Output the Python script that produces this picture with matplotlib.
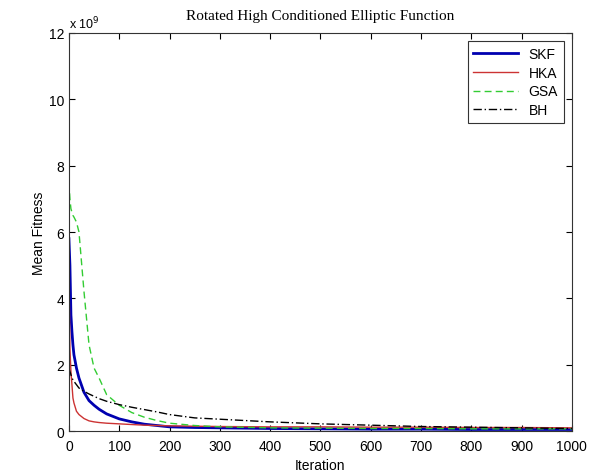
import matplotlib
matplotlib.use("Agg")
import matplotlib.pyplot as plt

# mean fitness, in units of 1e9
iters = [0, 2, 4, 6, 8, 10, 15, 20, 30, 40, 50, 60, 75, 100, 125, 150, 175, 200,
         250, 300, 400, 500, 600, 700, 800, 900, 1000]
skf = [5.8, 5.0, 3.5, 3.0, 2.6, 2.3, 1.9, 1.6, 1.17, 0.92, 0.78, 0.66, 0.52, 0.37,
       0.28, 0.21, 0.17, 0.13, 0.11, 0.10, 0.08, 0.07, 0.06, 0.06, 0.05, 0.05, 0.05]
hka = [4.9, 2.5, 1.8, 1.4, 1.0, 0.85, 0.6, 0.5, 0.38, 0.31, 0.28, 0.26, 0.24, 0.22,
       0.20, 0.18, 0.17, 0.16, 0.15, 0.14, 0.13, 0.13, 0.12, 0.12, 0.11, 0.11, 0.10]
gsa = [7.5, 7.0, 6.7, 6.6, 6.5, 6.45, 6.3, 6.0, 4.2, 2.6, 1.9, 1.6, 1.1, 0.78,
       0.56, 0.42, 0.32, 0.24, 0.17, 0.13, 0.10, 0.09, 0.08, 0.08, 0.07, 0.07, 0.07]
bh = [1.9, 1.8, 1.7, 1.6, 1.55, 1.5, 1.4, 1.3, 1.2, 1.12, 1.05, 0.98, 0.9, 0.8,
      0.72, 0.65, 0.58, 0.5, 0.4, 0.36, 0.28, 0.22, 0.18, 0.14, 0.12, 0.10, 0.08]

plt.rcParams['font.family'] = ['Liberation Sans', 'DejaVu Sans']

fig = plt.figure(figsize=(5.89, 4.77), dpi=100)
ax = fig.add_axes([0.117, 0.094, 0.854, 0.835])

ax.plot(iters, skf, color='#0000b0', lw=2, label='SKF')
ax.plot(iters, hka, color='#cc3333', lw=1, label='HKA')
ax.plot(iters, gsa, color='#33cc33', lw=1, ls=(0, (5, 3)), label='GSA')
ax.plot(iters, bh, color='black', lw=1, ls=(0, (6, 2, 1, 2)), label='BH')

ax.set_xlim(0, 1000)
ax.set_ylim(0, 12)
ax.set_xticks(range(0, 1001, 100))
ax.set_yticks(range(0, 13, 2))
ax.tick_params(direction='in', top=True, right=True, labelsize=10, length=4)
ax.tick_params(axis='x', pad=6)
for s in ax.spines.values():
    s.set_color('#333333')

ax.text(0.0, 1.005, r'x 10$^9$', transform=ax.transAxes, fontsize=9,
        ha='left', va='bottom')
ax.set_title('Rotated High Conditioned Elliptic Function', family='Liberation Serif',
             fontsize=11, pad=10)
ax.set_xlabel('Iteration', fontsize=10, labelpad=3)
ax.set_ylabel('Mean Fitness', fontsize=10, labelpad=2)

leg = ax.legend(loc='upper right', fontsize=10, fancybox=False, framealpha=1,
                edgecolor='#333333', handlelength=3.2, borderaxespad=0.6,
                labelspacing=0.35)
leg.get_frame().set_linewidth(0.8)

fig.savefig('out.png', dpi=100)
